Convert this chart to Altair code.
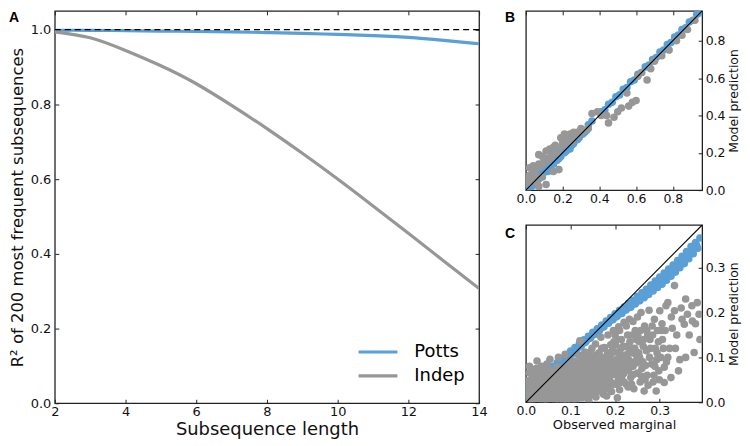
import altair as alt
import pandas as pd

BLUE = "#5A9FD6"
GRAY = "#979797"
FONT = "DejaVu Sans"

# ---------- Panel A ----------
lengths = [2, 3, 4, 5, 6, 7, 8, 9, 10, 11, 12, 13, 14]
potts_r2 = [0.998, 0.998, 0.997, 0.996, 0.995, 0.994, 0.992, 0.990, 0.987, 0.984, 0.979, 0.971, 0.962]
indep_r2 = [0.994, 0.978, 0.944, 0.903, 0.855, 0.797, 0.735, 0.669, 0.600, 0.528, 0.455, 0.381, 0.307]
models = ["Potts", "Indep"]
a_xticks = [2, 4, 6, 8, 10, 12, 14]
a_yticks = [0.0, 0.2, 0.4, 0.6, 0.8, 1.0]
ref_line = [1.0]

# ---------- Panel B ----------
bx_potts = [0.00, 0.01, 0.02, 0.03, 0.04, 0.05, 0.06, 0.07, 0.08, 0.09, 0.10, 0.11, 0.12, 0.13, 0.14, 0.15,
            0.16, 0.17, 0.18, 0.19, 0.20, 0.22, 0.23, 0.25, 0.27, 0.28, 0.30, 0.32, 0.34, 0.36,
            0.41, 0.43, 0.45, 0.47, 0.49, 0.51, 0.53, 0.55, 0.57, 0.59, 0.61, 0.63, 0.65, 0.67, 0.69,
            0.71, 0.73, 0.75, 0.77, 0.79, 0.81, 0.83, 0.85, 0.87, 0.89, 0.91, 0.93, 0.95,
            0.05, 0.08, 0.12, 0.15, 0.18, 0.21, 0.24, 0.26, 0.29, 0.31, 0.33]
by_potts = [0.01, 0.005, 0.03, 0.02, 0.05, 0.04, 0.07, 0.06, 0.09, 0.08, 0.11, 0.10, 0.13, 0.12, 0.15, 0.14,
            0.17, 0.16, 0.19, 0.18, 0.21, 0.21, 0.24, 0.24, 0.28, 0.27, 0.31, 0.31, 0.35, 0.37,
            0.42, 0.43, 0.46, 0.47, 0.50, 0.51, 0.54, 0.55, 0.58, 0.59, 0.62, 0.63, 0.66, 0.67, 0.70,
            0.71, 0.74, 0.75, 0.78, 0.79, 0.82, 0.83, 0.86, 0.87, 0.90, 0.91, 0.94, 0.95,
            0.03, 0.07, 0.10, 0.14, 0.17, 0.20, 0.22, 0.25, 0.28, 0.30, 0.32]
bx_indep = [0.005, 0.01, 0.02, 0.03, 0.04, 0.05, 0.06, 0.07,
            0.02, 0.04, 0.07, 0.09, 0.11, 0.13, 0.15, 0.16, 0.19, 0.21, 0.24, 0.26,
            0.09, 0.11, 0.15, 0.18,
            0.07, 0.12, 0.17, 0.20, 0.23, 0.28, 0.30, 0.34, 0.36, 0.39, 0.41, 0.44, 0.45, 0.48, 0.50,
            0.52, 0.56, 0.58, 0.60, 0.61, 0.63, 0.66, 0.70, 0.74, 0.78, 0.82, 0.85, 0.88, 0.92,
            0.14, 0.10, 0.25, 0.32, 0.55, 0.68,
            0.04, 0.06, 0.08, 0.10, 0.12, 0.14, 0.16, 0.18, 0.20, 0.22, 0.24, 0.26, 0.28, 0.30,
            0.05, 0.09, 0.13, 0.17, 0.21, 0.25]
by_indep = [0.06, 0.03, 0.08, 0.05, 0.10, 0.07, 0.04, 0.02,
            0.12, 0.13, 0.19, 0.18, 0.21, 0.22, 0.23, 0.24, 0.28, 0.30, 0.30, 0.31,
            0.07, 0.03, 0.10, 0.11,
            0.14, 0.16, 0.20, 0.26, 0.27, 0.29, 0.31, 0.33, 0.41, 0.42, 0.40, 0.40, 0.36, 0.39, 0.42,
            0.44, 0.45, 0.47, 0.48, 0.61, 0.63, 0.59, 0.69, 0.72, 0.75, 0.80, 0.83, 0.86, 0.91,
            0.18, 0.15, 0.26, 0.32, 0.52, 0.65,
            0.09, 0.12, 0.13, 0.16, 0.17, 0.19, 0.21, 0.22, 0.25, 0.26, 0.28, 0.29, 0.31, 0.33,
            0.08, 0.14, 0.17, 0.20, 0.24, 0.27]
b_ticks = [0.0, 0.2, 0.4, 0.6, 0.8]
b_diag = [0.0, 0.96]

# ---------- Panel C ----------
cx_potts = [0.000, 0.005, 0.010, 0.015, 0.020, 0.025, 0.030, 0.035, 0.040, 0.045, 0.050, 0.055, 0.060, 0.065,
            0.070, 0.075, 0.080, 0.085, 0.090, 0.095, 0.100, 0.105, 0.110, 0.115, 0.120, 0.125, 0.130, 0.135,
            0.140, 0.145, 0.150, 0.155, 0.160, 0.165, 0.170, 0.175, 0.180, 0.185, 0.190, 0.195, 0.200, 0.205,
            0.210, 0.215, 0.220, 0.225, 0.230, 0.235, 0.240, 0.245, 0.250, 0.255, 0.260, 0.265, 0.270, 0.275,
            0.280, 0.285, 0.290, 0.295, 0.300, 0.305, 0.310, 0.315, 0.320, 0.325, 0.330, 0.335, 0.340, 0.345,
            0.350, 0.355, 0.360, 0.365, 0.370, 0.375, 0.380, 0.385, 0.390,
            0.01, 0.03, 0.05, 0.07, 0.09, 0.11, 0.13, 0.15, 0.17, 0.19, 0.21, 0.23, 0.25, 0.27, 0.29,
            0.0025, 0.0125, 0.0225, 0.0325, 0.0425, 0.0525, 0.0625, 0.0725, 0.0825, 0.0925, 0.1025, 0.1125,
            0.1225, 0.1325, 0.1425, 0.1525, 0.1625, 0.1725, 0.1825, 0.1925, 0.2025, 0.2125, 0.2225, 0.2325,
            0.2425, 0.2525, 0.2625, 0.2725, 0.2825, 0.2925, 0.3025, 0.3125, 0.3225, 0.3325, 0.3425, 0.3525,
            0.3625, 0.3725, 0.3825]
cy_potts = [0.027, 0.026, 0.037, 0.034, 0.046, 0.043, 0.054, 0.050, 0.063, 0.060, 0.071, 0.066, 0.080, 0.077,
            0.088, 0.085, 0.097, 0.093, 0.105, 0.101, 0.114, 0.110, 0.122, 0.119, 0.131, 0.127, 0.139, 0.136,
            0.147, 0.144, 0.156, 0.152, 0.164, 0.160, 0.172, 0.168, 0.181, 0.176, 0.189, 0.184, 0.197, 0.192,
            0.205, 0.198, 0.212, 0.206, 0.220, 0.212, 0.227, 0.219, 0.236, 0.226, 0.244, 0.233, 0.252, 0.240,
            0.261, 0.248, 0.270, 0.256, 0.279, 0.263, 0.288, 0.272, 0.297, 0.281, 0.306, 0.290, 0.316, 0.300,
            0.325, 0.309, 0.336, 0.320, 0.347, 0.331, 0.356, 0.343, 0.366,
            0.030, 0.048, 0.064, 0.082, 0.099, 0.116, 0.133, 0.150, 0.167, 0.183, 0.200, 0.216, 0.230, 0.246, 0.263,
            0.020, 0.029, 0.037, 0.046, 0.055, 0.064, 0.072, 0.081, 0.090, 0.098, 0.107, 0.116,
            0.125, 0.133, 0.142, 0.151, 0.159, 0.168, 0.177, 0.185, 0.190, 0.198, 0.205, 0.213,
            0.220, 0.228, 0.236, 0.246, 0.255, 0.265, 0.275, 0.284, 0.293, 0.302, 0.310, 0.318,
            0.326, 0.336, 0.350]
c_indep = [
    (0.002, 0.010), (0.005, 0.040), (0.008, 0.065), (0.010, 0.020), (0.012, 0.050), (0.015, 0.005),
    (0.018, 0.070), (0.020, 0.035), (0.022, 0.058), (0.025, 0.012), (0.025, 0.092), (0.028, 0.045),
    (0.030, 0.068), (0.032, 0.025), (0.035, 0.055), (0.038, 0.004), (0.040, 0.040), (0.042, 0.072),
    (0.045, 0.018), (0.048, 0.060), (0.050, 0.030), (0.052, 0.008), (0.054, 0.096), (0.055, 0.050),
    (0.058, 0.070), (0.060, 0.020), (0.062, 0.042), (0.064, 0.062), (0.066, 0.005), (0.068, 0.032),
    (0.070, 0.078), (0.072, 0.052), (0.073, 0.100), (0.075, 0.015), (0.078, 0.040), (0.080, 0.066),
    (0.082, 0.026), (0.085, 0.003), (0.086, 0.055), (0.088, 0.107), (0.090, 0.080), (0.090, 0.036),
    (0.092, 0.014), (0.094, 0.062), (0.096, 0.046), (0.098, 0.088), (0.100, 0.024), (0.100, 0.070),
    (0.102, 0.004), (0.104, 0.052), (0.106, 0.092), (0.108, 0.036), (0.110, 0.066), (0.112, 0.014),
    (0.114, 0.080), (0.116, 0.046), (0.118, 0.105), (0.120, 0.028), (0.121, 0.137), (0.122, 0.060),
    (0.124, 0.090), (0.126, 0.010), (0.128, 0.042), (0.130, 0.074), (0.132, 0.112), (0.134, 0.024),
    (0.136, 0.056), (0.138, 0.096), (0.140, 0.034), (0.142, 0.082), (0.144, 0.015), (0.146, 0.064),
    (0.148, 0.120), (0.150, 0.044), (0.150, 0.100), (0.152, 0.022), (0.154, 0.076), (0.156, 0.130),
    (0.158, 0.054), (0.160, 0.092), (0.162, 0.030), (0.164, 0.110), (0.166, 0.066), (0.168, 0.145),
    (0.170, 0.040), (0.172, 0.084), (0.174, 0.018), (0.176, 0.122), (0.178, 0.060), (0.180, 0.100),
    (0.182, 0.035), (0.184, 0.150), (0.186, 0.075), (0.188, 0.048), (0.190, 0.128), (0.192, 0.024),
    (0.194, 0.090), (0.196, 0.160), (0.198, 0.062), (0.200, 0.112), (0.202, 0.040), (0.204, 0.140),
    (0.206, 0.080), (0.208, 0.168), (0.210, 0.028), (0.212, 0.100), (0.215, 0.058), (0.218, 0.125),
    (0.220, 0.178), (0.222, 0.070), (0.225, 0.040), (0.228, 0.150), (0.230, 0.095), (0.232, 0.185),
    (0.235, 0.055), (0.238, 0.120), (0.240, 0.080), (0.242, 0.030), (0.245, 0.160), (0.248, 0.105),
    (0.250, 0.065), (0.250, 0.190), (0.254, 0.135), (0.256, 0.045), (0.258, 0.200), (0.262, 0.090),
    (0.265, 0.025), (0.266, 0.170), (0.270, 0.115), (0.272, 0.060), (0.276, 0.205), (0.278, 0.140),
    (0.282, 0.085), (0.285, 0.045), (0.288, 0.185), (0.290, 0.120), (0.292, 0.025), (0.295, 0.160),
    (0.298, 0.070), (0.300, 0.204), (0.302, 0.100), (0.306, 0.140), (0.310, 0.044), (0.310, 0.078),
    (0.314, 0.215), (0.318, 0.222), (0.322, 0.120), (0.325, 0.055), (0.328, 0.165), (0.333, 0.260),
    (0.333, 0.204), (0.338, 0.150), (0.345, 0.095), (0.350, 0.185), (0.355, 0.174), (0.358, 0.230),
    (0.358, 0.100), (0.362, 0.196), (0.373, 0.181), (0.377, 0.111), (0.384, 0.222), (0.388, 0.196),
    (0.390, 0.140),
    (0.005, 0.025), (0.015, 0.060), (0.020, 0.015), (0.030, 0.040), (0.035, 0.080), (0.040, 0.010),
    (0.045, 0.050), (0.050, 0.075), (0.060, 0.055), (0.065, 0.028), (0.070, 0.010), (0.075, 0.068),
    (0.080, 0.045), (0.085, 0.020), (0.095, 0.030), (0.095, 0.075), (0.105, 0.020), (0.110, 0.050),
    (0.115, 0.030), (0.120, 0.075), (0.125, 0.055), (0.130, 0.020), (0.135, 0.085), (0.140, 0.050),
    (0.145, 0.035), (0.155, 0.040), (0.160, 0.065), (0.165, 0.025), (0.170, 0.100), (0.175, 0.050),
    (0.180, 0.080), (0.185, 0.030), (0.190, 0.060), (0.195, 0.040), (0.205, 0.060), (0.215, 0.090),
    (0.220, 0.045), (0.230, 0.070), (0.240, 0.110), (0.260, 0.075),
    (0.003, 0.048), (0.008, 0.080), (0.013, 0.012), (0.018, 0.045), (0.023, 0.075), (0.027, 0.028),
    (0.033, 0.063), (0.037, 0.018), (0.043, 0.032), (0.047, 0.085), (0.053, 0.042), (0.057, 0.022),
    (0.063, 0.012), (0.067, 0.048), (0.072, 0.030), (0.077, 0.055), (0.083, 0.010), (0.087, 0.040),
    (0.093, 0.055), (0.097, 0.012), (0.103, 0.040), (0.107, 0.060), (0.113, 0.006), (0.117, 0.064),
    (0.123, 0.040), (0.127, 0.068), (0.133, 0.048), (0.137, 0.012), (0.143, 0.060), (0.147, 0.088),
    (0.153, 0.060), (0.157, 0.012), (0.163, 0.050), (0.167, 0.082), (0.173, 0.066), (0.177, 0.035),
    (0.183, 0.110), (0.187, 0.090), (0.193, 0.075), (0.197, 0.135), (0.203, 0.095), (0.207, 0.050),
    (0.213, 0.120), (0.217, 0.075), (0.223, 0.105), (0.227, 0.085), (0.233, 0.135), (0.237, 0.040),
    (0.243, 0.090), (0.247, 0.140), (0.253, 0.110), (0.257, 0.160), (0.263, 0.125), (0.267, 0.050),
    (0.273, 0.150), (0.277, 0.100), (0.283, 0.170), (0.287, 0.060), (0.293, 0.095), (0.297, 0.135),
    (0.305, 0.175), (0.312, 0.160), (0.318, 0.100), (0.326, 0.190), (0.335, 0.120), (0.342, 0.070),
    (0.348, 0.210), (0.366, 0.150), (0.372, 0.215), (0.380, 0.175), (0.170, 0.120), (0.155, 0.105),
    (0.140, 0.110), (0.125, 0.100), (0.110, 0.090), (0.200, 0.150), (0.210, 0.160), (0.225, 0.170),
    (0.240, 0.180), (0.205, 0.010),
    (0.004, 0.032), (0.009, 0.006), (0.014, 0.038), (0.016, 0.022), (0.021, 0.052), (0.026, 0.062),
    (0.029, 0.008), (0.034, 0.034), (0.036, 0.070), (0.039, 0.050), (0.044, 0.064), (0.046, 0.006),
    (0.049, 0.038), (0.051, 0.058), (0.056, 0.032), (0.059, 0.046), (0.061, 0.068), (0.064, 0.022),
    (0.069, 0.058), (0.071, 0.040), (0.074, 0.006), (0.076, 0.030), (0.079, 0.076), (0.081, 0.054),
    (0.084, 0.034), (0.089, 0.066), (0.091, 0.004), (0.094, 0.024), (0.097, 0.050), (0.099, 0.040),
    (0.101, 0.082), (0.104, 0.030), (0.109, 0.008), (0.111, 0.076), (0.114, 0.056), (0.119, 0.040),
    (0.121, 0.018), (0.124, 0.084), (0.129, 0.058), (0.131, 0.034), (0.134, 0.096), (0.139, 0.070),
    (0.141, 0.004), (0.144, 0.048), (0.149, 0.026), (0.151, 0.084), (0.154, 0.050), (0.159, 0.034),
    (0.161, 0.100), (0.164, 0.078), (0.169, 0.054), (0.171, 0.028), (0.174, 0.092), (0.179, 0.070),
    (0.181, 0.014), (0.184, 0.058), (0.189, 0.104), (0.191, 0.044), (0.194, 0.116), (0.199, 0.082),
    (0.201, 0.128), (0.204, 0.070), (0.209, 0.110), (0.211, 0.044), (0.214, 0.140), (0.219, 0.064),
    (0.221, 0.098), (0.224, 0.124), (0.229, 0.034), (0.231, 0.110), (0.234, 0.082), (0.239, 0.150),
    (0.241, 0.062), (0.244, 0.120), (0.249, 0.088), (0.251, 0.148), (0.255, 0.100), (0.259, 0.058),
    (0.264, 0.140), (0.268, 0.082), (0.271, 0.160), (0.274, 0.038), (0.279, 0.120), (0.284, 0.150),
    (0.289, 0.080), (0.294, 0.110), (0.299, 0.050), (0.303, 0.160), (0.308, 0.120), (0.315, 0.090),
]
c_xticks = [0.0, 0.1, 0.2, 0.3]
c_yticks = [0.0, 0.1, 0.2, 0.3]
c_diag = [0.0, 0.395]

# ---------- build ----------
TICK = dict(offset=-4, tickSize=4)  # inward ticks on bottom / left / right main axes

A_W, A_H = 426, 394

dfA = pd.DataFrame({
    "length": lengths + lengths,
    "r2": potts_r2 + indep_r2,
    "model": ["Potts"] * len(lengths) + ["Indep"] * len(lengths),
})
xA = alt.Scale(domain=[2, 14], nice=False, zero=False)
yA = alt.Scale(domain=[0, 1.05], nice=False)

lines = alt.Chart(dfA).mark_line(strokeWidth=3.2, interpolate="natural", clip=True).encode(
    x=alt.X("length:Q", scale=xA,
            axis=alt.Axis(values=a_xticks, format="d", title="Subsequence length",
                          titleFontSize=18, labelFontSize=13, titlePadding=2, labelPadding=2, **TICK)),
    y=alt.Y("r2:Q", scale=yA,
            axis=alt.Axis(values=a_yticks, format=".1f", title="R² of 200 most frequent subsequences",
                          titleFontSize=16.5, labelFontSize=13, titlePadding=5, labelPadding=4, **TICK)),
    color=alt.Color("model:N", sort=models,
                    scale=alt.Scale(domain=models, range=[BLUE, GRAY]),
                    legend=alt.Legend(title=None, orient="none", legendX=313, legendY=331,
                                      symbolType="M-2,0L2,0", symbolSize=380, symbolStrokeWidth=3.2,
                                      labelFontSize=18, labelFont=FONT, labelOffset=25, rowPadding=3)),
)
# inward ticks on the top and right edges (axes drawn from the opposite side, pushed across the plot)
ticksA = alt.Chart(dfA).mark_line(opacity=0).encode(
    x=alt.X("length:Q", scale=xA,
            axis=alt.Axis(orient="bottom", values=a_xticks, labels=False, title=None,
                          offset=-A_H, tickSize=4)),
    y=alt.Y("r2:Q", scale=yA,
            axis=alt.Axis(orient="left", values=a_yticks, labels=False, title=None,
                          offset=-A_W, tickSize=4)),
)
dash = alt.Chart(pd.DataFrame({"y": ref_line})).mark_rule(
    color="black", strokeDash=[6, 4], strokeWidth=1.2).encode(y=alt.Y("y:Q", scale=yA, axis=None))
labA = alt.Chart(pd.DataFrame({"t": ["A"]})).mark_text(
    fontWeight="bold", fontSize=14, align="left", baseline="top", font="Liberation Sans").encode(
    x=alt.value(-46), y=alt.value(0), text="t:N")
A = alt.layer(lines, ticksA, dash, labA).resolve_axis(x="independent", y="independent").properties(
    width=A_W, height=A_H)


def scatter_panel(xp, yp, xi, yi, diag, xticks, yticks, dom, letter, xtitle, w, h, ly):
    dfs = pd.DataFrame({
        "obs": list(xp) + list(xi),
        "pred": list(yp) + list(yi),
        "model": ["Potts"] * len(xp) + ["Indep"] * len(xi),
        "ord": [0] * len(xp) + [1] * len(xi),
    })
    xs = alt.Scale(domain=[0, dom], nice=False, zero=False)
    ys = alt.Scale(domain=[0, dom], nice=False, zero=False)
    if xtitle:
        xax = alt.Axis(values=xticks, format=".1f", labelFontSize=12.5, titleFontSize=13,
                       title=xtitle, titlePadding=2, labelPadding=2, **TICK)
    else:
        xax = alt.Axis(values=xticks, format=".1f", labelFontSize=12.5, title=None, labelPadding=2, **TICK)
    yax = alt.Axis(values=yticks, format=".1f", orient="right", labelFontSize=12.5, titleFontSize=12.5,
                   title="Model prediction", titleAngle=270, titleBaseline="top", titlePadding=3,
                   labelPadding=3, **TICK)
    pts = alt.Chart(dfs).mark_circle(size=58, opacity=1, clip=True).encode(
        x=alt.X("obs:Q", scale=xs, axis=xax),
        y=alt.Y("pred:Q", scale=ys, axis=yax),
        color=alt.Color("model:N", scale=alt.Scale(domain=models, range=[BLUE, GRAY]), legend=None),
        order=alt.Order("ord:Q"),
    )
    dl = alt.Chart(pd.DataFrame({"d": diag})).mark_line(color="black", strokeWidth=1.1, clip=True).encode(
        x=alt.X("d:Q", scale=xs,
                axis=alt.Axis(orient="bottom", values=xticks, labels=False, title=None,
                              offset=-h, tickSize=4)),
        y=alt.Y("d:Q", scale=ys, axis=None))
    lab = alt.Chart(pd.DataFrame({"t": [letter]})).mark_text(
        fontWeight="bold", fontSize=14, align="left", baseline="top", font="Liberation Sans").encode(
        x=alt.value(-21), y=alt.value(ly), text="t:N")
    return alt.layer(pts, dl, lab).resolve_axis(x="independent", y="independent").properties(
        width=w, height=h)


ci_x = [p[0] for p in c_indep]
ci_y = [p[1] for p in c_indep]

B = scatter_panel(bx_potts, by_potts, bx_indep, by_indep, b_diag, b_ticks, b_ticks, 0.96, "B", None,
                  177, 180, 0)
C = scatter_panel(cx_potts, cy_potts, ci_x, ci_y, c_diag, c_xticks, c_yticks, 0.395, "C",
                  "Observed marginal", 177, 178, 2)

chart = alt.hconcat(A, alt.vconcat(B, C, spacing=17), spacing=16).resolve_scale(color="independent").properties(
    padding={"left": 0, "top": 0, "right": 0, "bottom": 0}, background="white"
).configure_view(stroke="#222", strokeWidth=1.3).configure_axis(
    grid=False, domain=False, tickColor="#222", labelColor="#111", titleColor="#111",
    labelFont=FONT, titleFont=FONT, titleFontWeight="normal", labelFlush=False, labelOverlap=False
)

chart.save("out.html", embed_options={"renderer": "svg", "actions": False})
